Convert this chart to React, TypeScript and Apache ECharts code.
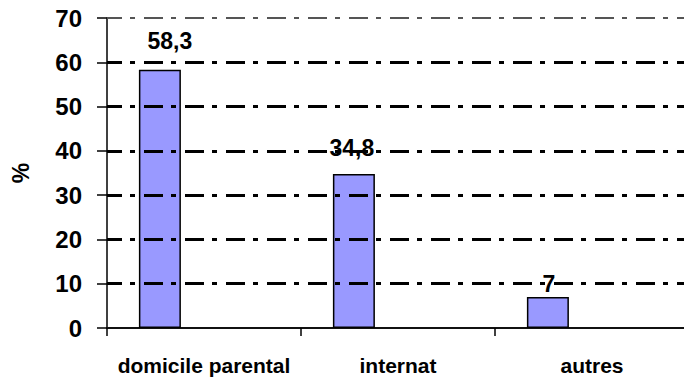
import React, { useEffect, useRef } from "react";
import * as echarts from "echarts";

// Lieu de résidence (%)
const categories = ["domicile parental", "internat", "autres"];
const shares = [58.3, 34.8, 7];
const gridLevels = [10, 20, 30, 40, 50, 60, 70];
const Y_MIN = 0;
const Y_MAX = 70;
const Y_STEP = 10;

// hand-placed label nudges [dx, dy] for each bar's value label
const labelNudges = [
  [10, -15],
  [-2, -12],
  [1, 0],
];

const FONT = "'Liberation Sans', Arial, Helvetica, sans-serif";

export default function App() {
  const ref = useRef<HTMLDivElement>(null);

  useEffect(() => {
    if (!ref.current) return;
    const chart = echarts.init(ref.current, undefined, { renderer: "svg" });

    const dash = [19, 8, 5, 9];
    const gridLines = gridLevels.map((v) => ({
      yAxis: v,
      lineStyle:
        v === Y_MAX
          ? { color: "#555", width: 2, type: dash as any, dashOffset: 4 }
          : { color: "#000", width: 3, type: dash as any, dashOffset: 4 },
    }));

    chart.setOption({
      animation: false,
      backgroundColor: "#fff",
      grid: {
        left: 107,
        top: 18,
        width: 582,
        height: 310,
        containLabel: false,
        outerBoundsMode: "none",
      },
      xAxis: {
        type: "category",
        data: categories,
        boundaryGap: true,
        axisLine: { show: true, lineStyle: { color: "#111", width: 2 } },
        axisTick: { show: true, length: 8, lineStyle: { color: "#000", width: 1.5 } },
        axisLabel: {
          interval: 0,
          color: "#000",
          fontFamily: FONT,
          fontWeight: "bold",
          fontSize: 21,
          margin: 27,
        },
        splitLine: { show: false },
      },
      yAxis: {
        type: "value",
        min: Y_MIN,
        max: Y_MAX,
        interval: Y_STEP,
        name: "%",
        nameLocation: "middle",
        nameGap: 75,
        nameRotate: 90,
        nameMoveOverlap: false,
        nameTextStyle: { color: "#000", fontFamily: FONT, fontWeight: "bold", fontSize: 23 },
        axisLine: { show: true, lineStyle: { color: "#000", width: 1.5 } },
        axisTick: { show: true, length: 10, lineStyle: { color: "#000", width: 1.5 } },
        axisLabel: {
          color: "#000",
          fontFamily: FONT,
          fontWeight: "bold",
          fontSize: 24,
          margin: 25,
        },
        splitLine: { show: false },
      },
      series: [
        {
          type: "bar",
          name: "part",
          data: shares.map((v, i) => ({
            value: v,
            label: { offset: labelNudges[i] },
          })),
          barWidth: 42,
          barGap: "110%",
          z: 3,
          itemStyle: { color: "#9999FF", borderColor: "#000", borderWidth: 1.5 },
          label: {
            show: true,
            position: "top",
            distance: 2,
            color: "#000",
            fontFamily: FONT,
            fontWeight: "bold",
            fontSize: 23,
            formatter: (p: any) => String(p.value).replace(".", ","),
          },
        },
        {
          type: "bar",
          name: "grille",
          data: categories.map(() => "-"),
          barWidth: 42,
          barGap: "110%",
          z: 1,
          markLine: {
            silent: true,
            symbol: "none",
            label: { show: false },
            data: gridLines,
          },
        },
      ],
    });

    return () => chart.dispose();
  }, []);

  return (
    <div
      style={{
        position: "fixed",
        left: 0,
        top: 0,
        width: 684,
        height: 378,
        overflow: "hidden",
        background: "#fff",
      }}
    >
      <div ref={ref} style={{ width: 700, height: 378 }} />
    </div>
  );
}
